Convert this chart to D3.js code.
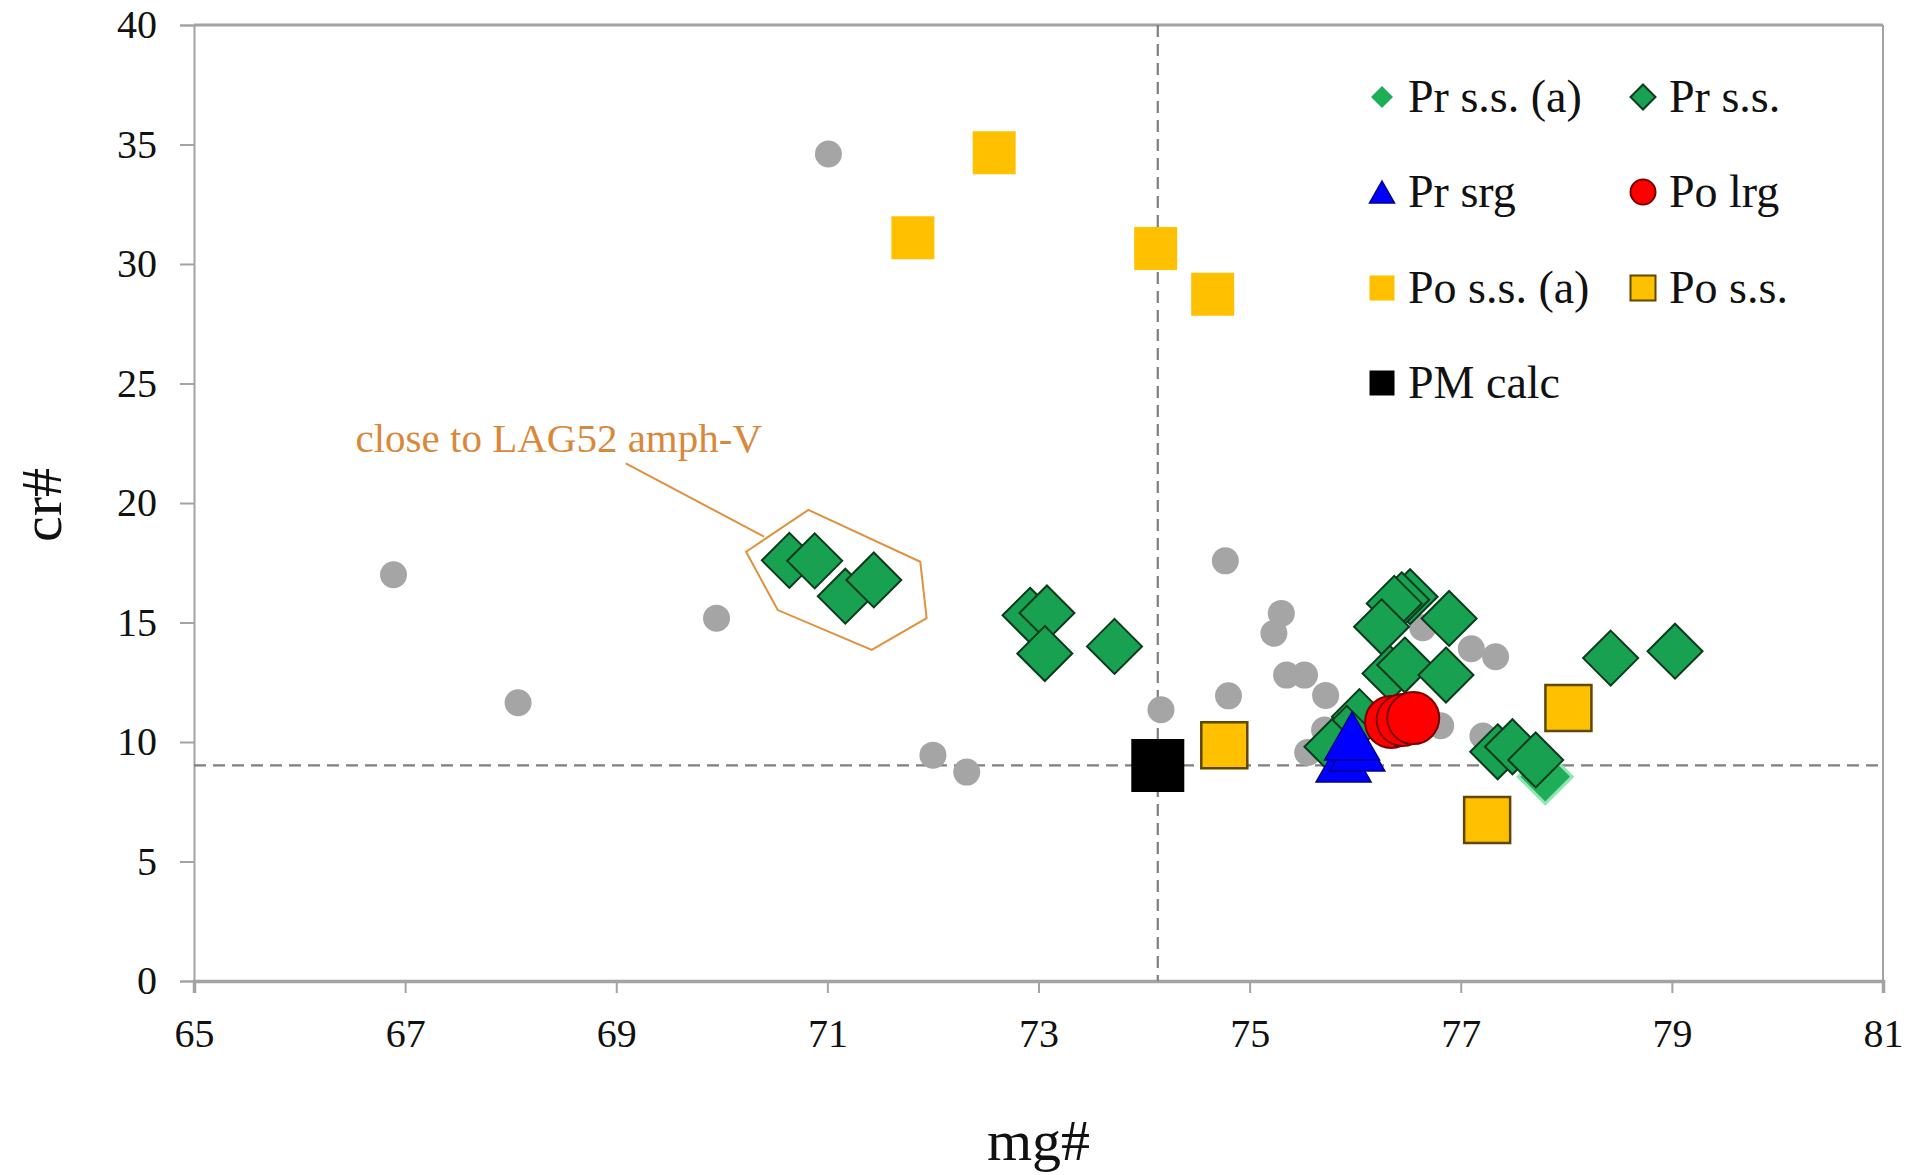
<!DOCTYPE html>
<html>
<head>
<meta charset="utf-8">
<script src="https://cdn.jsdelivr.net/npm/d3@7"></script>
<style>
  html, body { margin: 0; padding: 0; background: #ffffff; }
  svg text { font-family: "Liberation Serif", "Times New Roman", serif; }
</style>
</head>
<body>
<svg id="chart" width="1923" height="1175"></svg>
<script>
// ---- data: mg# (x) and cr# (y) ----
// grey background analyses (no legend entry)
const refMg = [66.89, 68.07, 69.95, 71.01, 72.00, 72.32, 74.16, 74.77, 74.80, 75.30, 75.23,
               75.35, 75.52, 75.72, 75.71, 75.55, 76.64, 77.10, 77.33, 76.81, 77.21];
const refCr = [17.00, 11.64, 15.18, 34.60, 9.45, 8.74, 11.35, 17.58, 11.93, 15.38, 14.55,
               12.80, 12.80, 11.95, 10.50, 9.56, 14.78, 13.90, 13.57, 10.68, 10.25];

const prSsAMg = [77.80];
const prSsACr = [8.55];

const prSsMg = [70.64, 70.88, 71.17, 71.44,
                72.92, 73.08, 73.06, 73.72,
                76.52, 76.44, 76.37, 76.25, 76.89, 76.33, 76.47, 76.86, 76.04, 75.92, 75.78,
                77.35, 77.49, 77.71, 78.42, 79.03];
const prSsCr = [17.60, 17.58, 16.10, 16.78,
                15.30, 15.40, 13.70, 14.00,
                16.08, 15.95, 15.80, 14.82, 15.17, 12.87, 13.22, 12.80, 11.06, 10.36, 9.80,
                9.59, 9.80, 9.25, 13.51, 13.80];

const prSrgMg = [75.89, 76.02, 75.97];
const prSrgCr = [9.33, 9.79, 10.25];

const poLrgMg = [76.34, 76.45, 76.55];
const poLrgCr = [10.84, 10.92, 11.00];

const poSsAMg = [71.81, 72.58, 74.11, 74.65];
const poSsACr = [31.10, 34.66, 30.65, 28.73];

const poSsMg = [74.76, 78.02, 77.25];
const poSsCr = [9.86, 11.42, 6.74];

const pmMg = [74.13];
const pmCr = [9.02];

const xTicks = [65, 67, 69, 71, 73, 75, 77, 79, 81];
const yTicks = [0, 5, 10, 15, 20, 25, 30, 35, 40];

// outline around the low mg# group and its note
const hullMg = [70.23, 70.82, 71.88, 71.94, 71.42, 70.53];
const hullCr = [17.96, 19.71, 17.54, 15.18, 13.85, 15.52];
const leaderMg = [69.09, 70.40];
const leaderCr = [21.66, 18.59];
const noteMg = 66.53, noteCr = 22.13;
const noteText = "close to LAG52 amph-V";

const xTitle = "mg#", yTitle = "cr#";

// ---- layout ----
const svg = d3.select("#chart");
const plotLeft = 194, plotRight = 1883, plotTop = 25, plotBottom = 981;

const x = d3.scaleLinear().domain([65, 81]).range([plotLeft, plotRight]);
const y = d3.scaleLinear().domain([0, 40]).range([plotBottom, plotTop]);

const axisColor = "#a3a3a3";
const serif = '"Liberation Serif", "Times New Roman", serif';

// frame (top and right edges)
svg.append("line").attr("x1", plotLeft).attr("x2", plotRight).attr("y1", plotTop).attr("y2", plotTop)
  .attr("stroke", axisColor).attr("stroke-width", 3);
svg.append("line").attr("x1", plotRight).attr("x2", plotRight).attr("y1", plotTop).attr("y2", plotBottom)
  .attr("stroke", axisColor).attr("stroke-width", 2);

// axes
const gx = svg.append("g").attr("transform", `translate(0,${plotBottom})`)
  .call(d3.axisBottom(x).tickValues(xTicks).tickFormat(d3.format("d")).tickSize(12).tickPadding(26));
const gy = svg.append("g").attr("transform", `translate(${plotLeft},0)`)
  .call(d3.axisLeft(y).tickValues(yTicks).tickFormat(d3.format("d")).tickSize(14).tickPadding(23));

[gx, gy].forEach(g => {
  g.select(".domain").attr("stroke", axisColor);
  g.selectAll(".tick line").attr("stroke", axisColor).attr("stroke-width", 2);
  g.selectAll(".tick text").attr("fill", "#111").attr("font-size", 40).attr("font-family", serif);
});
gx.select(".domain").attr("stroke-width", 3.5);
gy.select(".domain").attr("stroke-width", 2);

// axis titles
svg.append("text").attr("x", x(73)).attr("y", 1160)
  .attr("text-anchor", "middle").attr("font-size", 58).attr("fill", "#111")
  .text(xTitle);
svg.append("text").attr("transform", `translate(61,${(plotTop + plotBottom) / 2 + 2}) rotate(-90)`)
  .attr("text-anchor", "middle").attr("font-size", 58).attr("fill", "#111")
  .text(yTitle);

// reference dashed lines through the PM calc composition
svg.append("line").attr("x1", plotLeft).attr("x2", plotRight)
  .attr("y1", y(pmCr[0])).attr("y2", y(pmCr[0]))
  .attr("stroke", "#7f7f7f").attr("stroke-width", 2.4).attr("stroke-dasharray", "12,7");
svg.append("line").attr("x1", x(pmMg[0])).attr("x2", x(pmMg[0]))
  .attr("y1", plotTop).attr("y2", plotBottom)
  .attr("stroke", "#7f7f7f").attr("stroke-width", 2.2).attr("stroke-dasharray", "12,7");

// ---- marker shapes ----
function markerPath(shape, s) {
  const h = s / 2;
  if (shape === "diamond") return `M0,${-h}L${h},0L0,${h}L${-h},0Z`;
  if (shape === "square") return `M${-h},${-h}H${h}V${h}H${-h}Z`;
  if (shape === "triangle") {
    const th = s * 0.87;
    return `M0,${-th / 2}L${h},${th / 2}L${-h},${th / 2}Z`;
  }
  // circle
  return `M${h},0A${h},${h} 0 1,1 ${-h},0A${h},${h} 0 1,1 ${h},0Z`;
}

const zip = (a, b) => a.map((v, i) => ({ mg: v, cr: b[i] }));

const series = [
  { name: null,           pts: zip(refMg, refCr),     shape: "circle",   size: 27, fill: "#a5a5a5", stroke: "none", sw: 0 },
  { name: "Pr s.s. (a)",  pts: zip(prSsAMg, prSsACr), shape: "diamond",  size: 54, fill: "#1fae58", stroke: "#8fe6b2", sw: 3,
    legendSize: 22, legendStroke: "none" },
  { name: "Pr s.s.",      pts: zip(prSsMg, prSsCr),   shape: "diamond",  size: 55, fill: "#17a150", stroke: "#0b3a1c", sw: 2 },
  { name: "Pr srg",       pts: zip(prSrgMg, prSrgCr), shape: "triangle", size: 55, fill: "#0000ff", stroke: "#00008a", sw: 1.5 },
  { name: "Po lrg",       pts: zip(poLrgMg, poLrgCr), shape: "circle",   size: 52, fill: "#ff0000", stroke: "#7a0000", sw: 2 },
  { name: "Po s.s. (a)",  pts: zip(poSsAMg, poSsACr), shape: "square",   size: 43, fill: "#ffc000", stroke: "none", sw: 0 },
  { name: "Po s.s.",      pts: zip(poSsMg, poSsCr),   shape: "square",   size: 46, fill: "#ffc000", stroke: "#5f4700", sw: 2.5 },
  { name: "PM calc",      pts: zip(pmMg, pmCr),       shape: "square",   size: 53, fill: "#000000", stroke: "none", sw: 0 }
];

// annotation hull + leader + note
const hullPts = hullMg.map((m, i) => [x(m), y(hullCr[i])]);
svg.append("path")
  .attr("d", d3.line()(hullPts) + "Z")
  .attr("fill", "none").attr("stroke", "#e0913c").attr("stroke-width", 2);
svg.append("line")
  .attr("x1", x(leaderMg[0])).attr("y1", y(leaderCr[0]))
  .attr("x2", x(leaderMg[1])).attr("y2", y(leaderCr[1]))
  .attr("stroke", "#e0913c").attr("stroke-width", 2);
svg.append("text").attr("x", x(noteMg)).attr("y", y(noteCr))
  .attr("font-size", 41).attr("fill", "#d9883a").text(noteText);

// data markers
series.forEach(s => {
  svg.append("g").selectAll("path").data(s.pts).join("path")
    .attr("d", markerPath(s.shape, s.size))
    .attr("transform", d => `translate(${x(d.mg)},${y(d.cr)})`)
    .attr("fill", s.fill)
    .attr("stroke", s.stroke)
    .attr("stroke-width", s.sw);
});

// ---- legend ----
const legendCols = [1382, 1643];
const legendRows = [97, 192, 288, 383];
const legendSlots = [[0, 0], [0, 1], [1, 0], [1, 1], [2, 0], [2, 1], [3, 0]];
const lg = svg.append("g");
series.filter(s => s.name).forEach((s, i) => {
  const [r, c] = legendSlots[i];
  const cx = legendCols[c], cy = legendRows[r];
  lg.append("path")
    .attr("d", markerPath(s.shape, s.legendSize || 25))
    .attr("transform", `translate(${cx},${cy})`)
    .attr("fill", s.fill)
    .attr("stroke", s.legendStroke || s.stroke)
    .attr("stroke-width", Math.min(s.sw, 2));
  lg.append("text").attr("x", cx + 26).attr("y", cy + 15)
    .attr("font-size", 46).attr("fill", "#111").text(s.name);
});
</script>
</body>
</html>
